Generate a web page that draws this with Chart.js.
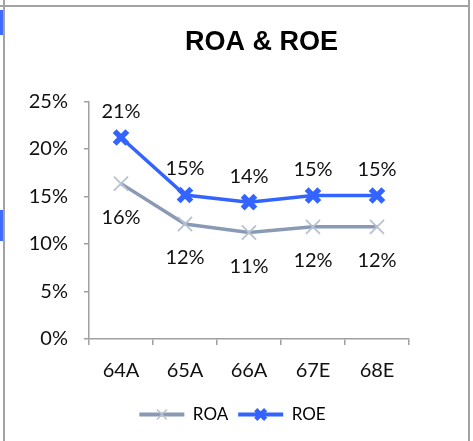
<!DOCTYPE html>
<html>
<head>
<meta charset="utf-8">
<script src="https://cdn.jsdelivr.net/npm/chart.js@4/dist/chart.umd.min.js"></script>
<style>
  html, body { margin: 0; padding: 0; background: #fff; overflow: hidden; }
  body { width: 473px; height: 441px; position: relative; }
  #wrap { position: absolute; left: 0; top: 0; width: 473px; height: 441px; }
  .frame { position: absolute; background: #a3a3a3; }
  .blue { position: absolute; background: #3d6cff; }
</style>
</head>
<body>
<div id="wrap"><canvas id="c" width="473" height="441"></canvas></div>
<div class="frame" style="left:0;top:5px;width:470px;height:2px;"></div>
<div class="frame" style="left:3px;top:0;width:2px;height:441px;"></div>
<div class="frame" style="left:468px;top:0;width:2px;height:441px;"></div>
<div class="blue" style="left:0;top:10px;width:3px;height:25px;"></div>
<div class="blue" style="left:0;top:210px;width:3px;height:31px;"></div>
<script>
const categories = ['64A', '65A', '66A', '67E', '68E'];
const roaValues = [16.35, 12.1, 11.2, 11.8, 11.8];
const roeValues = [21.2, 15.15, 14.4, 15.1, 15.1];
const yTicks = [0, 5, 10, 15, 20, 25];

const ROA_LINE = '#8a9ab5';
const ROA_MARK = '#b7c1d2';
const ROE_COLOR = '#3464ff';
const AXIS = '#a0a0a0';
const TXT = '#111';
const SANS = 'Lato, "Open Sans", "DejaVu Sans", sans-serif';

function drawX(ctx, x, y, r, w, color) {
  const o = r * Math.SQRT1_2;
  ctx.save();
  ctx.strokeStyle = color;
  ctx.lineWidth = w;
  ctx.beginPath();
  ctx.moveTo(x - o, y - o); ctx.lineTo(x + o, y + o);
  ctx.moveTo(x + o, y - o); ctx.lineTo(x - o, y + o);
  ctx.stroke();
  ctx.restore();
}

const layoutShift = {
  id: 'layoutShift',
  afterLayout(chart) {
    const t = chart.titleBlock;
    if (t) { t.left += 57; t.right += 57; }
    const l = chart.legend;
    if (l) { l.left += 28; l.right += 28; }
  }
};

const valueLabels = {
  id: 'valueLabels',
  afterDatasetsDraw(chart) {
    const ctx = chart.ctx;
    ctx.save();
    ctx.font = '20px ' + SANS;
    ctx.fillStyle = TXT;
    ctx.textAlign = 'center';
    ctx.textBaseline = 'middle';
    chart.data.datasets.forEach((ds, i) => {
      const meta = chart.getDatasetMeta(i);
      meta.data.forEach((pt, j) => {
        const txt = Math.round(ds.data[j]) + '%';
        const dy = ds.label === 'ROE' ? -26 : 34;
        ctx.fillText(txt, pt.x, pt.y + dy);
      });
    });
    ctx.restore();
  }
};

const legendMarkers = {
  id: 'legendMarkers',
  afterDraw(chart) {
    const l = chart.legend;
    if (!l || !l.legendHitBoxes) return;
    const ctx = chart.ctx;
    const bw = l.options.labels.boxWidth;
    l.legendHitBoxes.forEach((hb, i) => {
      const cx = hb.left + bw / 2;
      const cy = hb.top + hb.height / 2;
      if (chart.data.datasets[i].label === 'ROE') {
        drawX(ctx, cx, cy, 7, 4.5, ROE_COLOR);
      } else {
        drawX(ctx, cx, cy, 7, 1.5, ROA_MARK);
      }
    });
  }
};

new Chart(document.getElementById('c'), {
  type: 'line',
  data: {
    labels: categories,
    datasets: [
      {
        label: 'ROA',
        data: roaValues,
        borderColor: ROA_LINE,
        backgroundColor: ROA_LINE,
        borderWidth: 3.5,
        pointStyle: 'crossRot',
        pointRadius: 10,
        pointBorderWidth: 1.8,
        pointBorderColor: ROA_MARK,
        pointBackgroundColor: ROA_MARK,
        tension: 0
      },
      {
        label: 'ROE',
        data: roeValues,
        borderColor: ROE_COLOR,
        backgroundColor: ROE_COLOR,
        borderWidth: 3.5,
        pointStyle: 'crossRot',
        pointRadius: 9,
        pointBorderWidth: 5.5,
        pointBorderColor: ROE_COLOR,
        pointBackgroundColor: ROE_COLOR,
        tension: 0
      }
    ]
  },
  options: {
    responsive: false,
    animation: false,
    events: [],
    layout: { padding: { left: 0, right: 64, top: 0, bottom: 8 } },
    scales: {
      x: {
        offset: true,
        grid: { display: true, drawOnChartArea: false, drawTicks: true, tickLength: 6, color: AXIS, lineWidth: 1.5, offset: true },
        border: { display: true, color: AXIS, width: 1.5 },
        ticks: { font: { family: SANS, size: 20 }, color: TXT, padding: 14, maxRotation: 0 },
        afterFit(s) { s.height = 57; }
      },
      y: {
        min: 0,
        max: 25,
        afterBuildTicks(s) { s.ticks = yTicks.map(v => ({ value: v })); },
        grid: { display: true, drawOnChartArea: false, drawTicks: true, tickLength: 5, color: AXIS, lineWidth: 1.5 },
        border: { display: true, color: AXIS, width: 1.5 },
        ticks: { font: { family: SANS, size: 20 }, color: TXT, padding: 16, callback: v => v + '%' },
        afterFit(s) { s.width = 89; }
      }
    },
    plugins: {
      title: {
        display: true,
        text: 'ROA & ROE',
        font: { family: '"Liberation Sans", Arial, sans-serif', size: 27, weight: 'bold' },
        color: '#000',
        padding: { top: 26, bottom: 43 }
      },
      legend: {
        position: 'bottom',
        labels: {
          font: { family: SANS, size: 17 },
          color: TXT,
          boxWidth: 45,
          boxHeight: 4,
          padding: 10,
          generateLabels(chart) {
            return chart.data.datasets.map((ds, i) => ({
              text: ds.label,
              fillStyle: ds.borderColor,
              strokeStyle: ds.borderColor,
              lineWidth: 0,
              hidden: false,
              datasetIndex: i
            }));
          }
        }
      },
      tooltip: { enabled: false }
    }
  },
  plugins: [layoutShift, valueLabels, legendMarkers]
});
</script>
</body>
</html>
